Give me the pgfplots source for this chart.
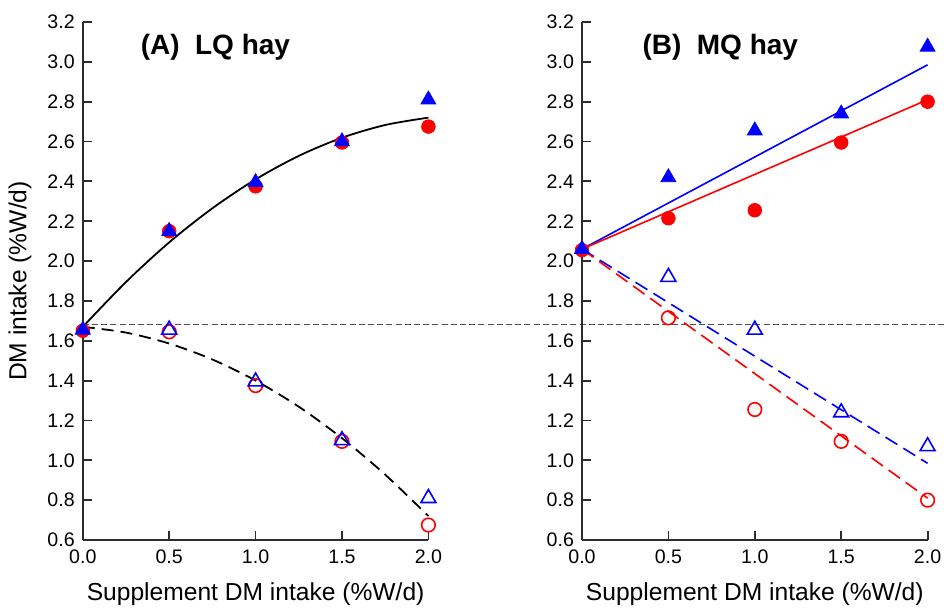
\documentclass[border=0pt]{standalone}
\usepackage{fontspec}
\setmainfont{Liberation Sans}
\usepackage{pgfplots}
\pgfplotsset{compat=1.18}

\definecolor{myred}{RGB}{255,0,0}
\definecolor{myblue}{RGB}{0,0,255}
\definecolor{axisgray}{RGB}{45,45,45}
\definecolor{refgray}{RGB}{80,80,80}

\pgfplotsset{
 panel/.style={
  scale only axis, width=172.8pt, height=259pt,
  anchor=south west,
  xmin=0, xmax=2, ymin=0.6, ymax=3.2,
  axis x line*=bottom, axis y line*=left,
  axis line style={axisgray, line width=0.9pt},
  every tick/.style={axisgray, line width=0.9pt},
  major tick length=4.5pt,
  tick align=inside,
  xtick={0,0.5,1,1.5,2},
  ytick={0.6,0.8,1.0,1.2,1.4,1.6,1.8,2.0,2.2,2.4,2.6,2.8,3.0,3.2},
  /pgf/number format/.cd, fixed, fixed zerofill, precision=1, assume math mode=true,
  /pgfplots/.cd,
  tick label style={font=\fontsize{9.8}{11}\selectfont},
  xticklabel style={yshift=-1.5pt},
  yticklabel style={xshift=-0.5pt},
  label style={font=\fontsize{12.3}{14}\selectfont},
  xlabel={Supplement DM intake (\%W/d)},
  xlabel style={at={(axis description cs:0.5,-0.105)}, anchor=center},
  clip=false,
 },
 fcirc/.style={only marks, mark=*, mark size=3.4pt, color=myred},
 ftri/.style={only marks, mark=triangle*, mark size=4.3pt, color=myblue},
 ocirc/.style={only marks, mark=o, mark size=3.4pt, color=myred, mark options={line width=0.8pt}},
 otri/.style={only marks, mark=triangle, mark size=4.3pt, color=myblue, mark options={line width=0.8pt}},
}

\begin{document}
\begin{tikzpicture}
\useasboundingbox (0,0) rectangle (472pt,304pt);

% ---------------- Panel A ----------------
\begin{axis}[panel, at={(41.4pt,34pt)},
  ylabel={DM intake (\%W/d)},
  ylabel style={at={(axis description cs:-0.182,0.5)}, anchor=center}]
\addplot[refgray, line width=0.5pt, dash pattern=on 3pt off 1.6pt] coordinates {(0,1.68) (4.99,1.68)};
\addplot[fcirc] coordinates {(0,1.65) (0.5,2.15) (1.0,2.375) (1.5,2.595) (2.0,2.675)};
\addplot[ftri] coordinates {(0,1.655) (0.5,2.15) (1.0,2.395) (1.5,2.60) (2.0,2.81)};
\addplot[ocirc] coordinates {(0.5,1.645) (1.0,1.375) (1.5,1.095) (2.0,0.675)};
\addplot[otri] coordinates {(0.5,1.655) (1.0,1.395) (1.5,1.10) (2.0,0.81)};
\addplot[black, line width=0.9pt, smooth] coordinates {
 (0,1.670) (0.25,1.895) (0.5,2.094) (0.75,2.265) (1.0,2.410) (1.25,2.528) (1.5,2.619) (1.75,2.683) (2.0,2.720)};
\addplot[black, line width=0.9pt, smooth, dash pattern=on 6pt off 3.5pt] coordinates {
 (0,1.670) (0.25,1.641) (0.5,1.586) (0.75,1.506) (1.0,1.400) (1.25,1.269) (1.5,1.111) (1.75,0.928) (2.0,0.720)};
\node[anchor=west, font=\fontsize{14}{16}\selectfont\bfseries] at (axis cs:0.295,3.075) {(A)\hspace{0.55em}LQ hay};
\end{axis}

% ---------------- Panel B ----------------
\begin{axis}[panel, at={(291pt,34pt)}]
\addplot[myblue, line width=0.8pt] coordinates {(0,2.06) (2,2.985)};
\addplot[myred, line width=0.8pt] coordinates {(0,2.06) (2,2.81)};
\addplot[myblue, line width=0.8pt, dash pattern=on 7pt off 3.5pt] coordinates {(0,2.06) (2,0.985)};
\addplot[myred, line width=0.8pt, dash pattern=on 7pt off 3.5pt] coordinates {(0,2.06) (2,0.81)};
\addplot[fcirc] coordinates {(0,2.055) (0.5,2.215) (1.0,2.255) (1.5,2.595) (2.0,2.80)};
\addplot[ftri] coordinates {(0,2.06) (0.5,2.42) (1.0,2.655) (1.5,2.74) (2.0,3.075)};
\addplot[ocirc] coordinates {(0.5,1.715) (1.0,1.255) (1.5,1.095) (2.0,0.80)};
\addplot[otri] coordinates {(0.5,1.92) (1.0,1.655) (1.5,1.24) (2.0,1.07)};
\node[anchor=west, font=\fontsize{14}{16}\selectfont\bfseries] at (axis cs:0.31,3.075) {(B)\hspace{0.55em}MQ hay};
\end{axis}
\end{tikzpicture}
\end{document}
